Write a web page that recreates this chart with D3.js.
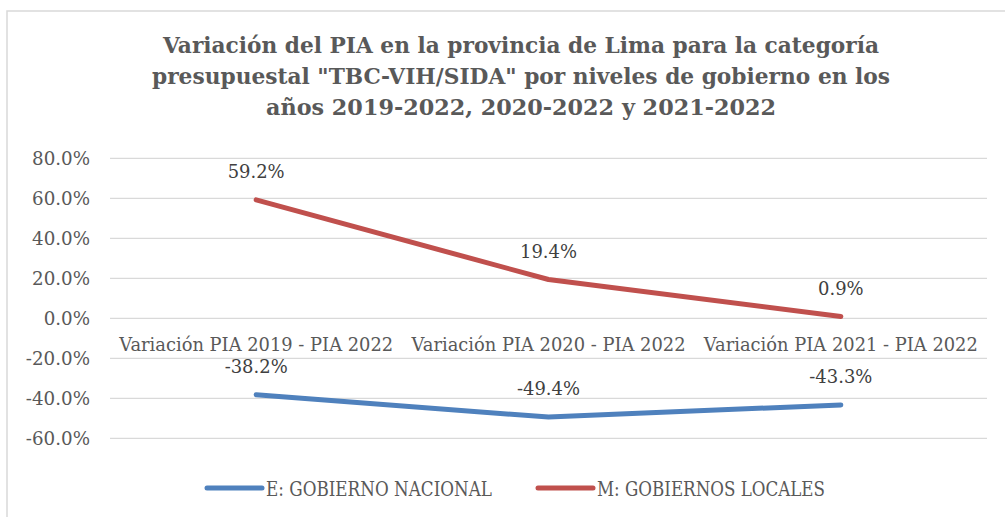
<!DOCTYPE html>
<html><head><meta charset="utf-8">
<script src="https://cdn.jsdelivr.net/npm/d3@7"></script>
<style>
html,body{margin:0;padding:0;background:#fff;}
svg{display:block;}
text{font-family:"DejaVu Serif","Liberation Serif",serif;}
</style></head>
<body>
<script>
const categories = ["Variación PIA 2019 - PIA 2022","Variación PIA 2020 - PIA 2022","Variación PIA 2021 - PIA 2022"];
const nacional = [-38.2, -49.4, -43.3];
const locales = [59.2, 19.4, 0.9];
const seriesNames = ["E: GOBIERNO NACIONAL","M: GOBIERNOS LOCALES"];
const seriesColors = ["#4f81bd","#c0504d"];
const yTicks = [-60,-40,-20,0,20,40,60,80];
const titleLines = ["Variación del PIA en la provincia de Lima para la categoría",
  "presupuestal \"TBC-VIH/SIDA\" por niveles de gobierno en los",
  "años 2019-2022, 2020-2022 y 2021-2022"];

const W = 1005, H = 517;
const svg = d3.select("body").append("svg").attr("width",W).attr("height",H);
const pct = d => d.toFixed(1) + "%";

function fit(sel, target){
  sel.each(function(){
    const el = this;
    const fs = parseFloat(el.getAttribute("font-size"));
    const w = el.getComputedTextLength();
    if (w>0) el.setAttribute("font-size", (fs*target/w).toFixed(2));
  });
}

// chart border
svg.append("rect").attr("x",7).attr("y",11).attr("width",1200).attr("height",700)
  .attr("fill","#fff").attr("stroke","#d9d9d9").attr("stroke-width",1.5);

const y = d3.scaleLinear().domain([-60,80]).range([438.3,158.3]);
const x = d3.scalePoint().domain(categories).range([110,987]).padding(0.5);

// gridlines
svg.append("g").selectAll("line").data(yTicks).join("line")
  .attr("x1",110).attr("x2",987)
  .attr("y1",d=>y(d)).attr("y2",d=>y(d))
  .attr("stroke","#d9d9d9").attr("stroke-width",1.3);

// y axis labels
const yAxis = d3.axisLeft(y).tickValues(yTicks).tickFormat(pct).tickSize(0).tickPadding(0);
const ga = svg.append("g").attr("transform","translate(90,0)").call(yAxis);
ga.select(".domain").remove();
ga.attr("font-family",null);
ga.selectAll("text").attr("font-size",18).attr("fill","#595959").attr("dy","0.35em");
{ const w = ga.selectAll("text").filter(d=>d===80).node().getComputedTextLength();
  ga.selectAll("text").attr("font-size",(18*58/w).toFixed(2)); }

// category labels
const cats = svg.append("g").selectAll("text").data(categories).join("text")
  .attr("x",d=>x(d)).attr("y",351).attr("text-anchor","middle")
  .attr("font-size",17).attr("fill","#595959").text(d=>d);
fit(cats, 274);

// lines
const line = d3.line().x((d,i)=>x(categories[i])).y(d=>y(d));
[nacional, locales].forEach((s,k)=>{
  svg.append("path").datum(s).attr("d",line).attr("fill","none")
    .attr("stroke",seriesColors[k]).attr("stroke-width",5)
    .attr("stroke-linecap","round").attr("stroke-linejoin","round");
});

// data labels
const dl = svg.append("g");
[nacional, locales].forEach((s,k)=>{
  dl.append("g").selectAll("text").data(s).join("text")
    .attr("x",(d,i)=>x(categories[i])).attr("y",d=>y(d)-22)
    .attr("text-anchor","middle").attr("font-size",18).attr("fill","#404040")
    .text(pct);
});
{ const w = dl.selectAll("text").filter(d=>d===59.2).node().getComputedTextLength();
  dl.selectAll("text").attr("font-size",(18*57/w).toFixed(2)); }

// title
const tl = svg.append("g").selectAll("text").data(titleLines).join("text")
  .attr("x",521).attr("y",(d,i)=>53+i*31).attr("text-anchor","middle")
  .attr("font-weight","bold").attr("font-size",23)
  .attr("fill","#595959").text(d=>d);
const tw = [716, 738, 510];
tl.each(function(d,i){ this.setAttribute("textLength", tw[i]); this.setAttribute("lengthAdjust","spacingAndGlyphs"); });

// legend
const lx = [207, 538];
const textW = [226, 228];
seriesNames.forEach((n,k)=>{
  svg.append("line").attr("x1",lx[k]).attr("x2",lx[k]+55).attr("y1",488).attr("y2",488)
    .attr("stroke",seriesColors[k]).attr("stroke-width",5).attr("stroke-linecap","round");
  svg.append("text").attr("x",lx[k]+59).attr("y",495.5).attr("font-size",20)
    .attr("fill","#595959").attr("textLength",textW[k]).attr("lengthAdjust","spacingAndGlyphs").text(n);
});
</script>
</body></html>
